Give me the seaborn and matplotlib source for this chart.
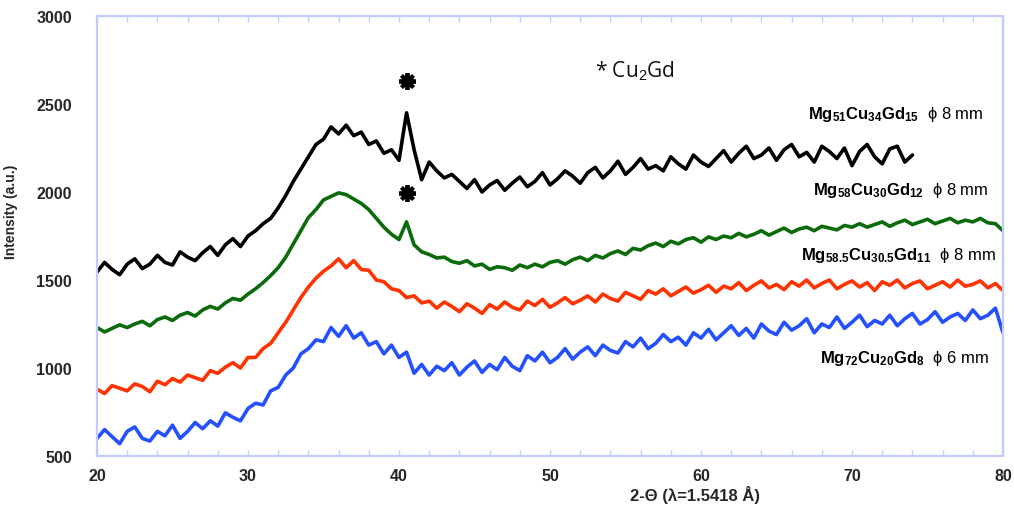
import numpy as np
import pandas as pd
import matplotlib
matplotlib.use("Agg")
import matplotlib.pyplot as plt
import seaborn as sns

# ---------------- data (0.5 deg sampling) ----------------
two_theta_start = 20.0
two_theta_step = 0.5

mg51 = [1545, 1600, 1560, 1530, 1590, 1620, 1565, 1590, 1640, 1600,
        1585, 1660, 1630, 1610, 1655, 1690, 1640, 1700, 1735, 1690,
        1750,
        1780, 1820, 1850, 1910, 1980, 2060, 2130, 2200, 2270, 2300,
        2370, 2330, 2380, 2320, 2340, 2270, 2290, 2220, 2240, 2180,
        2450, 2240, 2070, 2170,
        2120, 2080, 2100, 2060, 2020, 2070, 2000, 2040, 2065, 2010,
        2050, 2085, 2030, 2060, 2110, 2040, 2075, 2120, 2090, 2050,
        2110, 2140, 2080, 2120, 2175, 2100, 2140, 2190, 2130, 2150,
        2120, 2200, 2160, 2130, 2210, 2170, 2145, 2190, 2235, 2170,
        2220, 2260, 2190, 2210, 2250, 2180, 2240, 2270, 2200, 2225,
        2170, 2260, 2230, 2190, 2250, 2150, 2230, 2270, 2200, 2160,
        2245, 2260, 2170, 2210]

mg58 = [1230, 1205, 1225, 1245, 1230, 1250, 1265, 1240, 1275, 1290,
        1270, 1300, 1315, 1295, 1330, 1350, 1335, 1370, 1395, 1385,
        1420,
        1450, 1485, 1525, 1570, 1630, 1705, 1780, 1855, 1900, 1955,
        1975, 1995, 1985, 1960, 1935, 1900, 1850, 1800, 1760, 1730,
        1830, 1700, 1660, 1645,
        1625, 1630, 1605, 1595, 1610, 1580, 1590, 1560, 1575, 1570,
        1555, 1585, 1570, 1590, 1575, 1600, 1610, 1590, 1615, 1630,
        1610, 1640, 1625, 1650, 1665, 1645, 1680, 1670, 1695, 1710,
        1690, 1720, 1705, 1730, 1740, 1715, 1745, 1730, 1750, 1740,
        1765, 1745, 1760, 1780, 1755, 1775, 1795, 1770, 1790, 1800,
        1780, 1805, 1795, 1785, 1810, 1800, 1820, 1800, 1815, 1830,
        1805, 1825, 1840, 1815, 1830, 1845, 1820, 1835, 1850, 1825,
        1840, 1830, 1850, 1825, 1820, 1780]

mg585 = [880, 855, 900, 885, 870, 910, 895, 865, 925, 905,
         940, 920, 960, 945, 930, 985, 970, 1005, 1030, 1000,
         1060,
         1060, 1110, 1140, 1200, 1260, 1330, 1400, 1460, 1510, 1550,
         1580, 1620, 1570, 1610, 1560, 1555, 1500, 1490, 1450, 1440,
         1400, 1410, 1370, 1380,
         1340, 1375, 1350, 1320, 1365, 1340, 1310, 1360, 1335, 1375,
         1345, 1330, 1380, 1355, 1390, 1345, 1370, 1400, 1365, 1385,
         1410, 1375, 1420, 1395, 1380, 1430, 1410, 1390, 1440, 1420,
         1450, 1410, 1435, 1460, 1425, 1445, 1470, 1430, 1465, 1450,
         1485, 1440, 1470, 1495, 1455, 1475, 1445, 1490, 1465, 1500,
         1455, 1480, 1500, 1450, 1475, 1495, 1460, 1485, 1440, 1490,
         1470, 1500, 1455, 1480, 1495, 1450, 1470, 1490, 1460, 1500,
         1465, 1475, 1495, 1455, 1480, 1440]

mg72 = [600, 650, 610, 570, 640, 665, 600, 585, 640, 615,
        675, 600, 640, 690, 655, 700, 670, 745, 720, 700,
        770,
        800, 790, 870, 890, 960, 1000, 1080, 1110, 1160, 1150,
        1230, 1180, 1240, 1170, 1200, 1130, 1150, 1080, 1130, 1060,
        1090, 970, 1020, 960,
        1010, 985, 1030, 960, 1005, 1040, 975, 1020, 990, 1060,
        1010, 985, 1070, 1040, 1090, 1030, 1060, 1110, 1050, 1090,
        1120, 1070, 1130, 1100, 1085, 1150, 1120, 1170, 1110, 1140,
        1190, 1150, 1175, 1130, 1200, 1170, 1220, 1160, 1200, 1240,
        1185, 1225, 1170, 1250, 1210, 1190, 1260, 1215, 1240, 1280,
        1200, 1250, 1230, 1290, 1225, 1260, 1300, 1235, 1270, 1250,
        1300, 1240, 1280, 1310, 1250, 1275, 1320, 1260, 1290, 1310,
        1270, 1330, 1280, 1300, 1340, 1200]

series_names = ["Mg51Cu34Gd15", "Mg58Cu30Gd12", "Mg58.5Cu30.5Gd11", "Mg72Cu20Gd8"]
series_values = [mg51, mg58, mg585, mg72]
series_colors = ["#000000", "#0b6b0b", "#ff3300", "#2450ff"]

label_texts = [r"$\mathbf{Mg_{51}Cu_{34}Gd_{15}}$  ϕ 8 mm",
               r"$\mathbf{Mg_{58}Cu_{30}Gd_{12}}$  ϕ 8 mm",
               r"$\mathbf{Mg_{58.5}Cu_{30.5}Gd_{11}}$  ϕ 8 mm",
               r"$\mathbf{Mg_{72}Cu_{20}Gd_{8}}$  ϕ 6 mm"]
label_x = [67.1, 67.4, 66.6, 67.9]
label_y = [2445, 2015, 1645, 1060]

peak_x = [40.5, 40.5]
peak_y = [2630, 1995]

x_ticks = [20, 30, 40, 50, 60, 70, 80]
y_ticks = [500, 1000, 1500, 2000, 2500, 3000]

# ---------------- build long table ----------------
rows = []
for name, vals in zip(series_names, series_values):
    xs = two_theta_start + two_theta_step * np.arange(len(vals))
    for xv, yv in zip(xs, vals):
        rows.append((name, xv, yv))
df = pd.DataFrame(rows, columns=["sample", "two_theta", "intensity"])

# ---------------- style ----------------
sns.set_theme(style="white")
plt.rcParams["font.family"] = ["Liberation Sans", "DejaVu Sans"]
plt.rcParams["mathtext.fontset"] = "custom"
plt.rcParams["mathtext.rm"] = "Liberation Sans"
plt.rcParams["mathtext.bf"] = "Liberation Sans:bold"
plt.rcParams["mathtext.it"] = "Liberation Sans:italic"

fig = plt.figure(figsize=(10.14, 5.10), dpi=100)
ax = fig.add_axes([97 / 1014, 53 / 510, 906 / 1014, 440 / 510])

sns.lineplot(data=df, x="two_theta", y="intensity", hue="sample",
             hue_order=series_names, palette=series_colors,
             estimator=None, sort=False, linewidth=2.6, legend=False, ax=ax)

ax.plot(peak_x, peak_y, linestyle="none", marker=(8, 2, 0), markersize=12,
        markeredgewidth=2.8, color="black")
ax.plot(peak_x, peak_y, linestyle="none", marker="o", markersize=6, color="black")

for t, lx, ly in zip(label_texts, label_x, label_y):
    ax.text(lx, ly, t, fontsize=12, va="center", ha="left", color="black")

ax.text(53.0, 2690, r"* Cu$_2$Gd", fontsize=15, va="center", ha="left",
        family=["Open Sans", "DejaVu Sans"], color="#111111")

ax.set_xlim(20, 80)
ax.set_ylim(500, 3000)
ax.set_xticks(x_ticks)
ax.set_xticks(np.arange(20, 81, 2), minor=True)
ax.set_yticks(y_ticks)

frame_color = "#c3cbfb"
for s in ax.spines.values():
    s.set_color(frame_color)
    s.set_linewidth(1.6)
    s.set_visible(True)

ax.tick_params(axis="x", which="both", direction="in", top=True, bottom=True,
               color=frame_color, length=4, width=1, pad=9,
               labelsize=11.5)
ax.tick_params(axis="y", which="both", length=0, pad=18, labelsize=11.5)
for lab in ax.get_xticklabels() + ax.get_yticklabels():
    lab.set_fontweight("bold")

ax.set_xlabel("2-Θ (λ=1.5418 Å)", fontsize=12, fontweight="bold")
ax.xaxis.set_label_coords(0.66, -0.066)
ax.set_ylabel("Intensity (a.u.)", fontsize=10, fontweight="bold")
ax.yaxis.set_label_coords(-0.087, 0.557)

fig.savefig("out.png", dpi=100)
